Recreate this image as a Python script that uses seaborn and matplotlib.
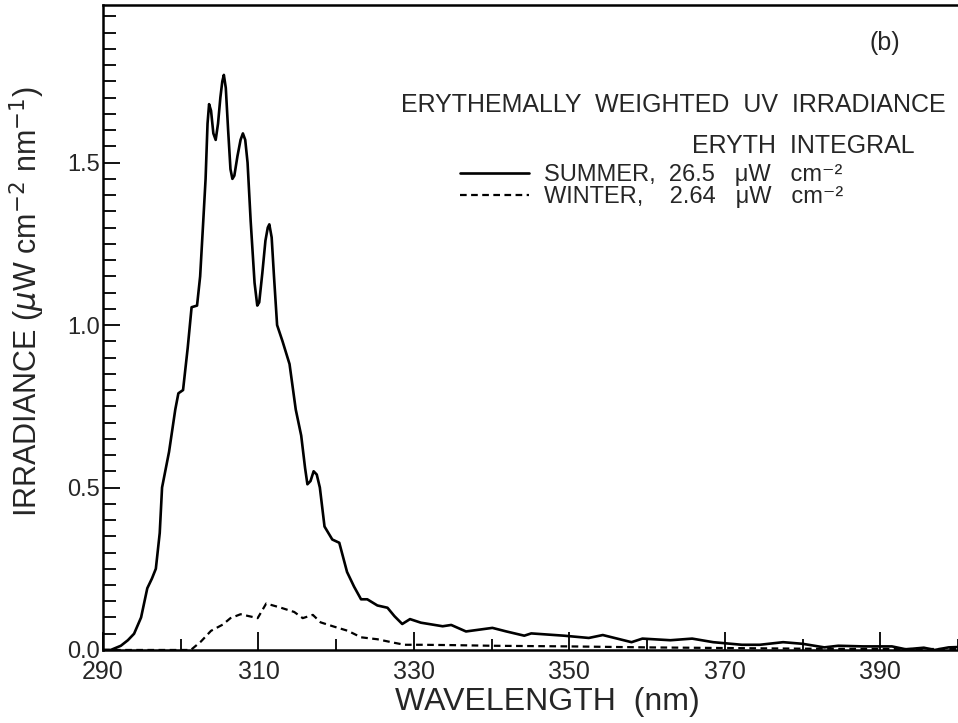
import numpy as np
import pandas as pd
import matplotlib
matplotlib.use("Agg")
import matplotlib.pyplot as plt
import seaborn as sns

# values
summer_nm = [290, 291, 292.3, 293.2, 294.0, 294.9, 295.7, 296.3, 296.8, 297.3, 297.6,
             298.5, 299.3, 299.7, 300.3, 300.9, 301.4, 302.1, 302.5, 302.9, 303.2,
             303.45, 303.65, 303.9, 304.2, 304.5, 304.8, 305.1, 305.35, 305.55, 305.8,
             306.1, 306.4, 306.65, 306.9, 307.3, 307.7, 308.0, 308.3, 308.6, 309.0,
             309.5, 309.85, 310.1, 310.5, 310.9, 311.2, 311.4, 311.7, 312.0, 312.4,
             313.1, 314.0, 314.8, 315.5, 316.0, 316.3, 316.7, 317.1, 317.5, 317.9,
             318.5, 319.5, 320.4, 321.4, 322.3, 323.2, 324.0, 325.3, 326.6, 327.5,
             328.5, 329.5, 330.9, 333.7, 334.8, 336.7, 340.1, 341.9, 344.2, 345.1,
             349.3, 352.5, 354.3, 358.0, 359.4, 363.0, 365.8, 368.5, 372.2, 374.5,
             377.5, 380.0, 382.8, 384.6, 387.8, 391.5, 393.3, 395.6, 397.0, 398.8,
             400.0]
summer_irr = [0.0, 0.0, 0.013, 0.03, 0.05, 0.10, 0.19, 0.22, 0.25, 0.36, 0.50,
              0.61, 0.74, 0.79, 0.80, 0.93, 1.055, 1.06, 1.15, 1.32, 1.45,
              1.62, 1.68, 1.66, 1.59, 1.57, 1.62, 1.70, 1.75, 1.77, 1.73,
              1.60, 1.48, 1.45, 1.46, 1.52, 1.57, 1.59, 1.57, 1.50, 1.32,
              1.13, 1.06, 1.07, 1.16, 1.26, 1.30, 1.31, 1.27, 1.15, 1.00,
              0.95, 0.88, 0.74, 0.66, 0.56, 0.51, 0.52, 0.55, 0.54, 0.50,
              0.38, 0.34, 0.33, 0.24, 0.195, 0.156, 0.156, 0.137, 0.13, 0.104,
              0.08, 0.095, 0.084, 0.073, 0.077, 0.057, 0.068, 0.057, 0.044, 0.051,
              0.044, 0.037, 0.046, 0.024, 0.035, 0.030, 0.035, 0.024, 0.016, 0.016,
              0.024, 0.019, 0.008, 0.013, 0.011, 0.011, 0.002, 0.007, 0.0, 0.008,
              0.009]

winter_nm = [290, 301.3, 302.6, 303.9, 305.4, 306.4, 307.7, 308.8, 309.9, 311.0,
             312.9, 314.6, 315.7, 317.0, 318.0, 319.7, 321.5, 323.2, 325.3, 327.5,
             328.8, 330.9, 334.8, 340, 350, 360, 370, 380, 390, 400]
winter_irr = [0.0, 0.0, 0.026, 0.059, 0.078, 0.098, 0.11, 0.104, 0.098, 0.143,
              0.13, 0.117, 0.098, 0.108, 0.085, 0.072, 0.059, 0.039, 0.033, 0.022,
              0.016, 0.016, 0.015, 0.013, 0.011, 0.008, 0.006, 0.004, 0.003, 0.003]

summer_label = "SUMMER,  26.5   μW   cm⁻²"
winter_label = "WINTER,    2.64   μW   cm⁻²"

sns.set_theme(style="ticks")
plt.rcParams['font.family'] = ['Liberation Sans', 'DejaVu Sans']
plt.rcParams['mathtext.fontset'] = 'dejavusans'

df_s = pd.DataFrame({"nm": summer_nm, "irr": summer_irr})
df_w = pd.DataFrame({"nm": winter_nm, "irr": winter_irr})

fig = plt.figure(figsize=(9.58, 7.23), dpi=100)
ax = fig.add_axes([0.1075, 0.101, 0.8925, 0.892])

sns.lineplot(data=df_s, x="nm", y="irr", ax=ax, color="black", lw=1.9,
             label=summer_label, estimator=None, sort=False)
sns.lineplot(data=df_w, x="nm", y="irr", ax=ax, color="black", lw=1.6,
             linestyle=(0, (3, 2)), label=winter_label, estimator=None, sort=False)

ax.set_xlim(290, 400)
ax.set_ylim(0, 1.985)
ax.set_xticks(np.arange(290, 401, 20))
ax.set_xticks(np.arange(300, 401, 20), minor=True)
ax.set_yticks([0.0, 0.5, 1.0, 1.5])
ax.set_yticks(np.arange(0, 1.99, 0.05), minor=True)
ax.yaxis.set_major_formatter(matplotlib.ticker.FormatStrFormatter('%.1f'))
ax.tick_params(which="both", direction="in", top=False, right=False, color="black")
ax.tick_params(axis="x", which="major", length=13, width=1.3, labelsize=18, pad=7)
ax.tick_params(axis="x", which="minor", length=8, width=1.3)
ax.tick_params(axis="y", which="major", length=12, width=1.3, labelsize=17, pad=2)
ax.tick_params(axis="y", which="minor", length=9, width=1.3)

for side in ["left", "bottom", "top"]:
    ax.spines[side].set_linewidth(1.8)
    ax.spines[side].set_color("black")
ax.spines["right"].set_visible(False)

ax.set_xlabel("WAVELENGTH  (nm)", fontsize=23)
ax.xaxis.set_label_coords(0.52, -0.058)
ax.set_ylabel(r"IRRADIANCE ($\mu$W cm$^{-2}$ nm$^{-1}$)", fontsize=22)
ax.yaxis.set_label_coords(-0.066, 0.54)

ax.text(0.897, 0.941, "(b)", transform=ax.transAxes, fontsize=18, ha="left", va="center")
ax.text(0.985, 0.845, "ERYTHEMALLY  WEIGHTED  UV  IRRADIANCE", transform=ax.transAxes,
        fontsize=18, ha="right", va="center")
ax.text(0.949, 0.782, "ERYTH  INTEGRAL", transform=ax.transAxes,
        fontsize=18, ha="right", va="center")

ax.legend(loc="upper left", bbox_to_anchor=(0.404, 0.772), frameon=False, fontsize=17,
          handlelength=2.9, handletextpad=0.65, labelspacing=0.0, borderpad=0)

fig.savefig("out.png", dpi=100)
